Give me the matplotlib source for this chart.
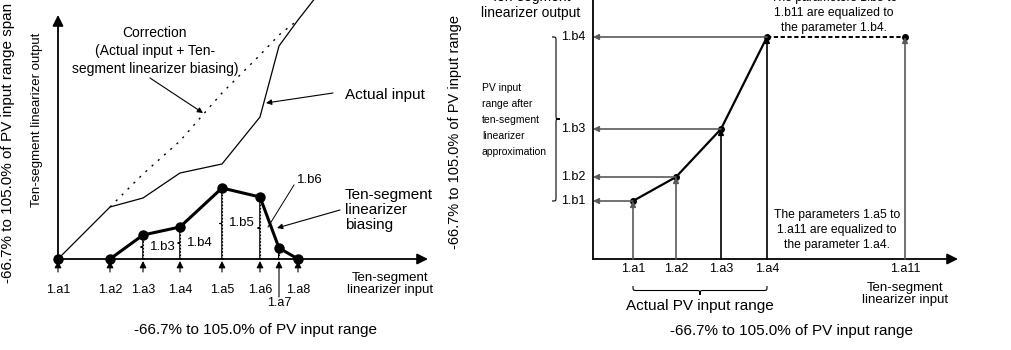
import numpy as np
import matplotlib
matplotlib.use('Agg')
import matplotlib.pyplot as plt
from matplotlib.path import Path
from matplotlib.patches import PathPatch

plt.rcParams['font.family'] = ['Liberation Sans', 'DejaVu Sans']

# Left diagram: break points of the ten-segment linearizer (input positions 1.a1 .. 1.a8)
seg_labels = ['1.a1', '1.a2', '1.a3', '1.a4', '1.a5', '1.a6', '1.a7', '1.a8']
seg_input = np.array([0, 52, 85, 122, 164, 202, 221, 240])
seg_bias = np.array([0, 0, 24, 32, 71, 62, 11, 0])            # 1.b1 .. 1.b8
actual_input = np.array([0, 52, 61, 86, 95, 142, 213, 239])
# actual input keeps rising past 1.a8
actual_tail_x = [240, 265]
actual_tail_y = [239, 271]
bias_labels = ['1.b3', '1.b4', '1.b5']

# Right diagram: only four break points used, the rest equalized to 1.a4 / 1.b4
pv_labels = ['1.a1', '1.a2', '1.a3', '1.a4']
pv_input = np.array([40, 83, 128, 174])
pv_output = np.array([58, 82, 130, 222])
out_labels = ['1.b1', '1.b2', '1.b3', '1.b4']
a11_input = 312

GRAY = '#5a5a5a'


def brace(ax, p0, p1, depth, lw=0.8, color='black'):
    """Curly brace from p0 to p1, tip pointing to the right of the p0->p1 direction."""
    p0 = np.asarray(p0, float)
    p1 = np.asarray(p1, float)
    L = np.hypot(*(p1 - p0))
    t = (p1 - p0) / L
    n = np.array([t[1], -t[0]])
    h = depth / 2.0
    r = min(abs(depth) / 2.0, L / 4.0)
    m = L / 2.0
    loc = [(0, 0), (0, h), (0, h), (r, h),
           (m - r, h),
           (m, h), (m, h), (m, depth),
           (m, h), (m, h), (m + r, h),
           (L - r, h),
           (L, h), (L, h), (L, 0)]
    codes = [Path.MOVETO, Path.CURVE4, Path.CURVE4, Path.CURVE4,
             Path.LINETO,
             Path.CURVE4, Path.CURVE4, Path.CURVE4,
             Path.CURVE4, Path.CURVE4, Path.CURVE4,
             Path.LINETO,
             Path.CURVE4, Path.CURVE4, Path.CURVE4]
    pts = [p0 + u * t + v * n for u, v in loc]
    ax.add_patch(PathPatch(Path(pts, codes), fill=False, lw=lw, edgecolor=color,
                           clip_on=False))


def arrow(ax, start, end, color='black', lw=1.0, ms=8):
    ax.annotate('', xy=end, xytext=start,
                arrowprops=dict(arrowstyle='-|>', color=color, lw=lw,
                                mutation_scale=ms, shrinkA=0, shrinkB=0),
                annotation_clip=False)


fig = plt.figure(figsize=(10.12, 3.5), dpi=100)
ax1 = fig.add_axes([0, 0, 470 / 1012, 1])
ax2 = fig.add_axes([470 / 1012, 0, 542 / 1012, 1])
ax1.set_xlim(-58, 412)
ax1.set_ylim(-91, 259)
ax2.set_xlim(-123, 419)
ax2.set_ylim(-91, 259)
for ax in (ax1, ax2):
    ax.axis('off')

# ---------------- left diagram ----------------
arrow(ax1, (0, 0), (370, 0), lw=1.3, ms=16)
arrow(ax1, (0, 0), (0, 244), lw=1.3, ms=16)

ax1.plot(np.r_[seg_input, actual_tail_x[1]], np.r_[actual_input, actual_tail_y[1]],
         color='black', lw=0.9, clip_on=False)
correction = actual_input + seg_bias
ax1.plot(seg_input[1:], correction[1:], color='black', lw=1.0, ls=(0, (1.5, 4.5)))
ax1.plot(seg_input[1:], seg_bias[1:], color='black', lw=2.2)
ax1.plot(seg_input, seg_bias, 'o', color='black', ms=6.5)

# dotted drops with braces showing the bias at each point
ax1.vlines(seg_input[2:7], 0, seg_bias[2:7], colors='black', lw=0.8,
           linestyles=(0, (1.5, 1.5)))
for x, b in zip(seg_input[2:6], seg_bias[2:6]):
    brace(ax1, (x + 2, b), (x + 2, 0), 4.5)
brace(ax1, (seg_input[6] - 2, 0), (seg_input[6] - 2, seg_bias[6]), 3)
for x, b, lab in zip(seg_input[2:5], seg_bias[2:5], bias_labels):
    ax1.text(x + 7, b / 2, lab, fontsize=9.5, ha='left', va='center')

# input markers below the axis
for i, (x, lab) in enumerate(zip(seg_input, seg_labels)):
    if lab == '1.a7':
        arrow(ax1, (x, -38), (x, -2), lw=0.8, ms=10)
        ax1.text(x, -44, lab, fontsize=9, ha='center', va='center')
    else:
        arrow(ax1, (x, -13), (x, -2), lw=0.8, ms=10)
        ax1.text(x, -31, lab, fontsize=9, ha='center', va='center')

ax1.text(97, 208, 'Correction\n(Actual input + Ten-\nsegment linearizer biasing)',
         fontsize=10, ha='center', va='center', linespacing=1.35)
arrow(ax1, (92, 181), (145, 146), lw=0.8, ms=8)
ax1.text(287, 164, 'Actual input', fontsize=11, ha='left', va='center')
arrow(ax1, (275, 166), (208, 156), lw=0.8, ms=8)
ax1.text(287, 49, 'Ten-segment\nlinearizer\nbiasing', fontsize=11, ha='left',
         va='center', linespacing=1.05)
arrow(ax1, (282, 49), (219, 31), lw=0.8, ms=8)
ax1.text(239, 79, '1.b6', fontsize=9.5, ha='left', va='center')
ax1.plot([236, 210], [74, 32], color='black', lw=0.7)

ax1.text(332, -25, 'Ten-segment\nlinearizer input', fontsize=9.5, ha='center',
         va='center', linespacing=1.0)
ax1.text(198, -71, '-66.7% to 105.0% of PV input range', fontsize=11,
         ha='center', va='center')
ax1.text(-50, 116, '-66.7% to 105.0% of PV input range span', fontsize=11,
         rotation=90, ha='center', va='center', clip_on=False)
ax1.text(-21, 139, 'Ten-segment linearizer output', fontsize=9.5,
         rotation=90, ha='center', va='center')

# ---------------- right diagram ----------------
arrow(ax2, (0, 0), (365, 0), lw=1.3, ms=16)
ax2.plot([0, 0], [0, 270], color='black', lw=1.3, clip_on=False)

for x, y, c in zip(pv_input, pv_output, [GRAY, GRAY, 'black', 'black']):
    arrow(ax2, (x, y), (0, y), color=GRAY, lw=1.2, ms=8)
    arrow(ax2, (x, 0), (x, y), color=c, lw=1.2, ms=8)
arrow(ax2, (a11_input, 0), (a11_input, pv_output[-1]), color=GRAY, lw=1.2, ms=8)

ax2.plot([pv_input[-1], a11_input], [pv_output[-1], pv_output[-1]], color='black',
         lw=1.4, ls=(0, (2.2, 1.3)))
ax2.plot(pv_input, pv_output, color='black', lw=1.6)
ax2.plot(np.r_[pv_input, a11_input], np.r_[pv_output, pv_output[-1]], 'o',
         color='black', ms=4)

for x, lab in zip(np.r_[pv_input, a11_input], pv_labels + ['1.a11']):
    ax2.text(x, -10, lab, fontsize=9, ha='center', va='center')
for y, lab in zip(pv_output, out_labels):
    ax2.text(-8, y, lab, fontsize=9, ha='right', va='center')

brace(ax2, (-41, pv_output[-1]), (-41, pv_output[0]), -8)
ax2.text(-111, 139, 'PV input\nrange after\nten-segment\nlinearizer\napproximation',
         fontsize=7.5, ha='left', va='center', linespacing=1.75)

brace(ax2, (pv_input[0], -27), (pv_input[-1], -27), 9)
ax2.text(107, -47, 'Actual PV input range', fontsize=11, ha='center', va='center')
ax2.text(198, -72, '-66.7% to 105.0% of PV input range', fontsize=11,
         ha='center', va='center')
ax2.text(312, -35, 'Ten-segment\nlinearizer input', fontsize=9.5, ha='center',
         va='center', linespacing=1.0)

ax2.text(-138, 127, '-66.7% to 105.0% of PV input range', fontsize=10.5,
         rotation=90, ha='center', va='center', clip_on=False)
ax2.text(-62, 254, 'Ten-segment\nlinearizer output', fontsize=10, ha='center',
         va='center', linespacing=1.15)

ax2.text(241, 246, 'The parameters 1.b5 to\n1.b11 are equalized to\nthe parameter 1.b4.',
         fontsize=8.7, ha='center', va='center', linespacing=1.3)
ax2.text(244, 29, 'The parameters 1.a5 to\n1.a11 are equalized to\nthe parameter 1.a4.',
         fontsize=8.7, ha='center', va='center', linespacing=1.3)

fig.savefig('out.png', dpi=100)
